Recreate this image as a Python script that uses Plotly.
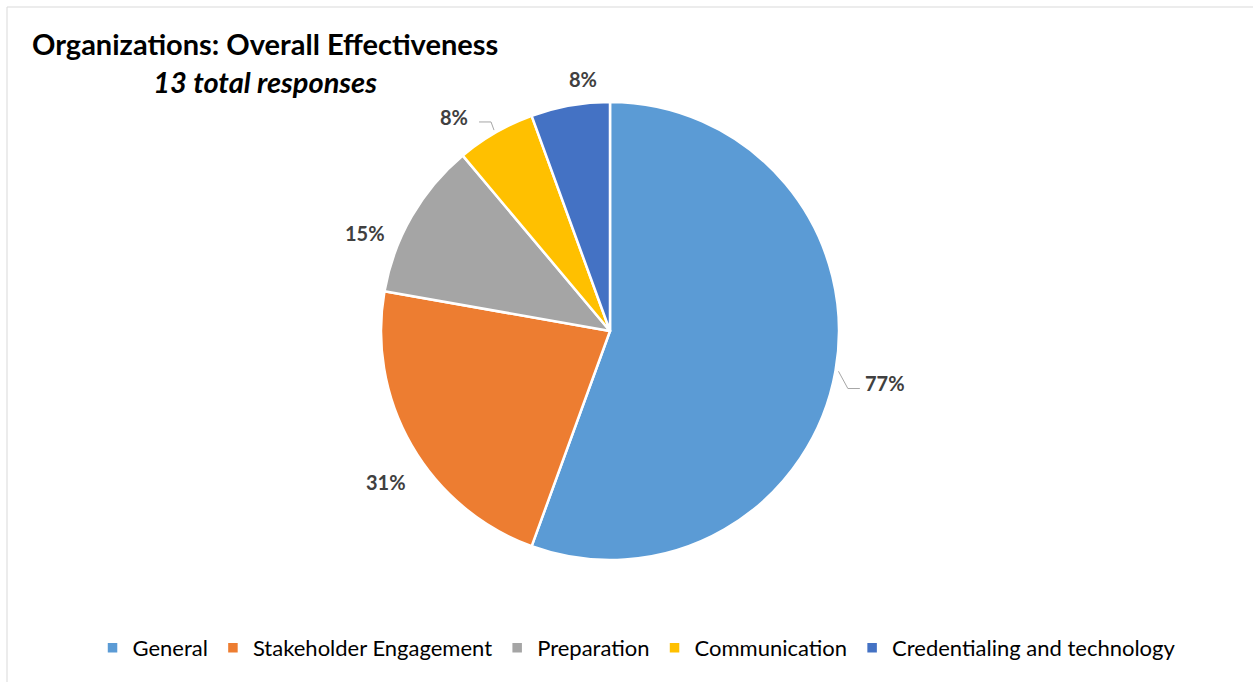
import math
import plotly.graph_objects as go

# Survey categories and response counts (13 respondents, multiple answers allowed)
categories = ["General", "Stakeholder Engagement", "Preparation", "Communication",
              "Credentialing and technology"]
counts = [10, 4, 2, 1, 1]
total_responses = 13
colors = ["#5B9BD5", "#ED7D31", "#A5A5A5", "#FFC000", "#4472C4"]

labels_pct = [f"{round(c / total_responses * 100)}%" for c in counts]

W, H = 1253, 682
cx, cy, R = 610, 331, 229          # pie centre / radius in pixels
LABEL_DIST = 1.17                  # label centre distance, in radii
# fine placement of each data label (pixels, right / down)
label_nudge = [(11, 5), (8, 17), (-13, 36), (-22, 18), (20, 12)]
leader_on = [True, False, False, True, False]


def px(x, y):
    return x / W, 1 - y / H


fig = go.Figure(go.Pie(
    labels=categories,
    values=counts,
    textinfo="none",
    marker=dict(colors=colors, line=dict(color="white", width=2.5)),
    sort=False,
    direction="clockwise",
    rotation=0,
    domain=dict(x=[(cx - R) / W, (cx + R) / W], y=[1 - (cy + R) / H, 1 - (cy - R) / H]),
    showlegend=True,
))

annotations = [dict(
    text="<b>Organizations: Overall Effectiveness</b><br><b><i>13 total responses</i></b>",
    x=265 / W, y=1 - 24 / H, xref="paper", yref="paper",
    xanchor="center", yanchor="top", showarrow=False, align="center",
    font=dict(family="Lato", size=29, color="#000000"),
)]
shapes = [dict(
    type="rect", xref="paper", yref="paper",
    x0=7 / W, x1=1.01, y0=-0.01, y1=1 - 7 / H,
    line=dict(color="#D9D9D9", width=1), fillcolor="rgba(0,0,0,0)", layer="below",
)]

# data labels placed around each slice's mid-angle (clockwise from 12 o'clock)
total = sum(counts)
cum = 0
for i, c in enumerate(counts):
    mid = (cum + c / 2) / total * 2 * math.pi
    cum += c
    lx = cx + math.sin(mid) * R * LABEL_DIST + label_nudge[i][0]
    ly = cy - math.cos(mid) * R * LABEL_DIST + label_nudge[i][1]
    x, y = px(lx, ly)
    annotations.append(dict(
        text=f"<b>{labels_pct[i]}</b>", x=x, y=y, xref="paper", yref="paper",
        xanchor="center", yanchor="middle", showarrow=False,
        font=dict(family="Lato", size=20, color="#404040"),
    ))
    if leader_on[i]:
        ex = cx + math.sin(mid) * (R + 3)
        ey = cy - math.cos(mid) * (R + 3)
        half_w = 21
        side = 1 if lx > cx else -1
        end_x = lx - side * (half_w + 4)
        elbow_x = end_x - side * 12
        line_y = ly + (6 if side > 0 else 5)
        pts = [px(ex, ey), px(elbow_x, line_y), px(end_x, line_y)]
        path = "M {} {} L {} {} L {} {}".format(*[v for p in pts for v in p])
        shapes.append(dict(type="path", xref="paper", yref="paper", path=path,
                           line=dict(color="#A6A6A6", width=1)))

fig.update_layout(
    width=W, height=H,
    margin=dict(l=0, r=0, t=0, b=0),
    paper_bgcolor="white",
    plot_bgcolor="white",
    font=dict(family="Lato", color="#000000"),
    annotations=annotations,
    shapes=shapes,
    legend=dict(
        orientation="h", x=0.508, xanchor="center", y=1 - 627 / H, yanchor="top",
        font=dict(family="Lato", size=22, color="#000000"),
        itemwidth=30, traceorder="normal",
    ),
)

fig.write_html("out.html")
